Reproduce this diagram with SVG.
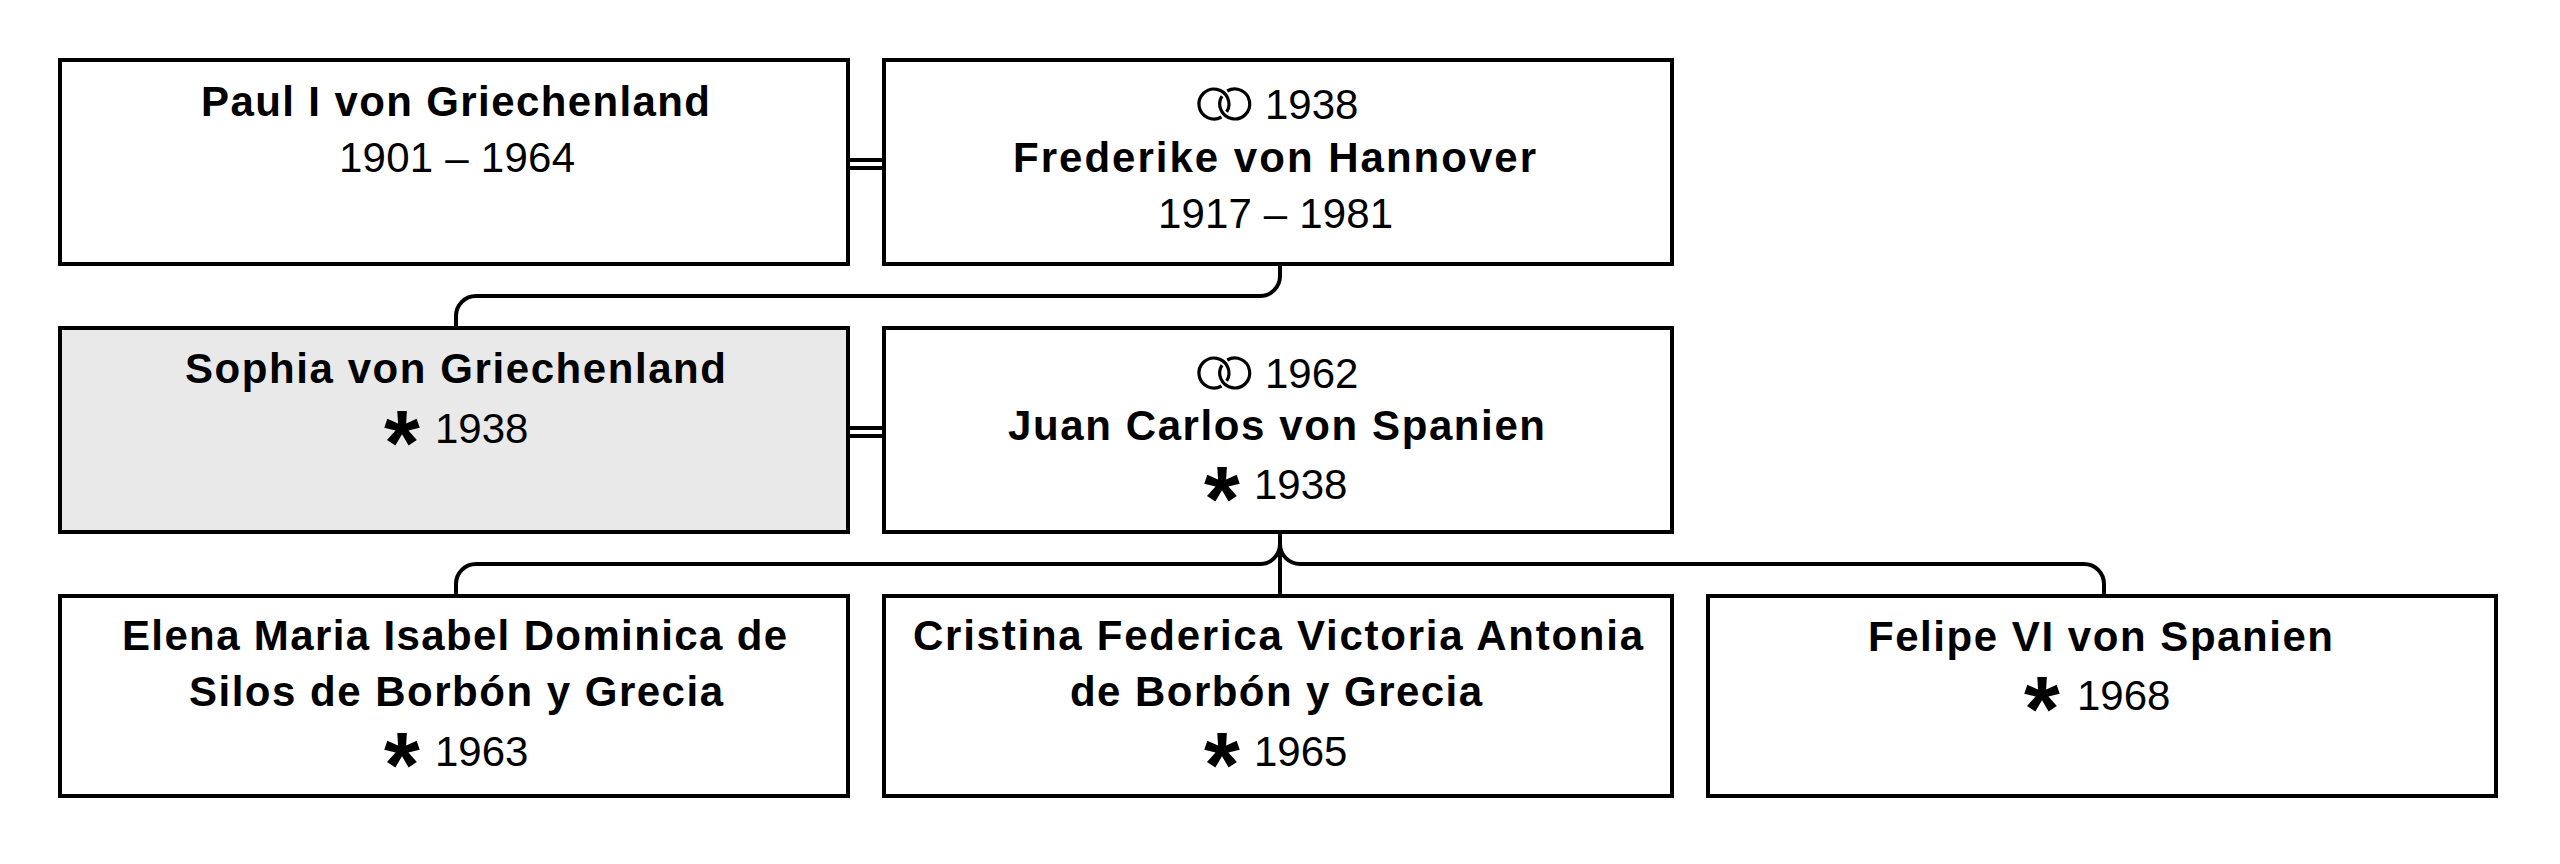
<svg xmlns="http://www.w3.org/2000/svg" width="2560" height="864" viewBox="0 0 2560 864">
<style>
.box{fill:#fff;stroke:#000;stroke-width:4}
.self{fill:#e9e9e9}
.c{fill:none;stroke:#000;stroke-width:4}
.ring{fill:none;stroke:#000;stroke-width:3.2}
text{font-family:"Liberation Sans",Arial,sans-serif;font-size:42px;fill:#000}
.n{font-weight:700}
.s{font-weight:700;font-size:92px}
</style>
<defs>
<g id="rings">
<path class="ring" d="M12.7 7.95A15 15 0 1 0 7.5 13"/>
<path class="ring" d="M8 -7.95A15 15 0 1 0 13.2 -13"/>
</g>
</defs>
<rect width="2560" height="864" fill="#fff"/>
<g id="connectors">
<path class="c" d="M848 160H884M848 168H884M848 428H884M848 436H884"/>
<path class="c" d="M1280 264V276A20 20 0 0 1 1260 296H476A20 20 0 0 0 456 316V328"/>
<path class="c" d="M1280 532V596"/>
<path class="c" d="M1280 544A20 20 0 0 1 1260 564H476A20 20 0 0 0 456 584V596"/>
<path class="c" d="M1280 544A20 20 0 0 0 1300 564H2084A20 20 0 0 1 2104 584V596"/>
</g>
<g id="paul">
<rect class="box" x="60" y="60" width="788" height="204"/>
<text class="n" x="201" y="116" textLength="509">Paul I von Griechenland</text>
<text x="339" y="172" textLength="236">1901 – 1964</text>
</g>
<g id="frederike">
<rect class="box" x="884" y="60" width="788" height="204"/>
<use href="#rings" x="1214" y="104"/>
<text x="1265" y="119">1938</text>
<text class="n" x="1013" y="172" textLength="523">Frederike von Hannover</text>
<text x="1158" y="228" textLength="235">1917 – 1981</text>
</g>
<g id="sophia">
<rect class="box self" x="60" y="328" width="788" height="204"/>
<text class="n" x="185" y="383" textLength="541">Sophia von Griechenland</text>
<text class="s" x="384" y="475">*</text>
<text x="435" y="443">1938</text>
</g>
<g id="juan-carlos">
<rect class="box" x="884" y="328" width="788" height="204"/>
<use href="#rings" x="1214" y="373"/>
<text x="1265" y="388">1962</text>
<text class="n" x="1008" y="440" textLength="537">Juan Carlos von Spanien</text>
<text class="s" x="1204" y="531">*</text>
<text x="1254" y="499">1938</text>
</g>
<g id="elena">
<rect class="box" x="60" y="596" width="788" height="200"/>
<text class="n" x="122" y="650" textLength="665">Elena Maria Isabel Dominica de</text>
<text class="n" x="189" y="706" textLength="534">Silos de Borbón y Grecia</text>
<text class="s" x="384" y="797">*</text>
<text x="435" y="766">1963</text>
</g>
<g id="cristina">
<rect class="box" x="884" y="596" width="788" height="200"/>
<text class="n" x="913" y="650" textLength="730">Cristina Federica Victoria Antonia</text>
<text class="n" x="1070" y="706" textLength="412">de Borbón y Grecia</text>
<text class="s" x="1204" y="797">*</text>
<text x="1254" y="766">1965</text>
</g>
<g id="felipe">
<rect class="box" x="1708" y="596" width="788" height="200"/>
<text class="n" x="1868" y="651" textLength="465">Felipe VI von Spanien</text>
<text class="s" x="2024" y="741">*</text>
<text x="2077" y="710">1968</text>
</g>
</svg>
